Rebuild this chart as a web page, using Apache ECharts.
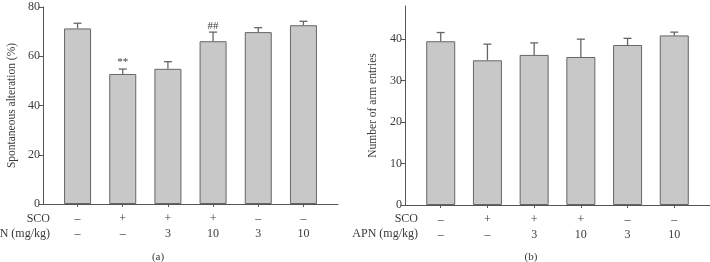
<!DOCTYPE html>
<html>
<head>
<meta charset="utf-8">
<script src="https://cdn.jsdelivr.net/npm/echarts@6/dist/echarts.min.js"></script>
<style>
  html, body { margin: 0; padding: 0; background: #fff; }
  #chart { width: 710px; height: 262px; }
</style>
</head>
<body>
<div id="chart"></div>
<script>
// groups on the x axis (1..6), with the two treatment rows printed under them
var groups = [1, 2, 3, 4, 5, 6];
var scoRow = ['–', '+', '+', '+', '–', '–'];
var apnRow = ['–', '–', '3', '10', '3', '10'];

// (a) spontaneous alteration (%)
var alternation = [71.3, 52.8, 54.9, 66.1, 69.8, 72.6];
var alternationErr = [2.1, 2.0, 2.9, 3.7, 1.8, 1.6];
var alternationMarks = ['', '**', '', '##', '', ''];

// (b) number of arm entries
var armEntries = [39.5, 34.9, 36.2, 35.7, 38.6, 40.9];
var armEntriesErr = [2.1, 3.9, 2.9, 4.3, 1.6, 0.8];
var armEntriesMarks = ['', '', '', '', '', ''];

var yTicksA = [0, 20, 40, 60, 80];
var yTicksB = [0, 10, 20, 30, 40];

var font = 'Liberation Serif';
var textColor = '#3a3a3a';
var axisColor = '#555';

var chart = echarts.init(document.getElementById('chart'));

function barData(vals) {
    return groups.map(function (g, i) { return [g, vals[i]]; });
}
function errData(vals, errs, marks) {
    return groups.map(function (g, i) { return [g, vals[i], errs[i], marks[i]]; });
}

function errorRender(params, api) {
    var x = api.value(0), y = api.value(1), e = api.value(2), mark = api.value(3);
    var p0 = api.coord([x, y]);
    var p1 = api.coord([x, y + e]);
    var st = { stroke: '#666', lineWidth: 1.3 };
    var kids = [
        { type: 'line', shape: { x1: p0[0], y1: p0[1], x2: p1[0], y2: p1[1] }, style: st },
        { type: 'line', shape: { x1: p1[0] - 4, y1: p1[1], x2: p1[0] + 4, y2: p1[1] }, style: st }
    ];
    if (mark) {
        kids.push({
            type: 'text',
            style: {
                text: mark, x: p1[0], y: p1[1] - 1,
                align: 'center', verticalAlign: 'bottom',
                font: '11px "' + font + '"', fill: textColor
            }
        });
    }
    return { type: 'group', children: kids };
}

function xAxisFor(gridIndex) {
    return {
        type: 'value',
        gridIndex: gridIndex,
        min: 0.235,
        max: 6.765,
        splitLine: { show: false },
        axisLine: { lineStyle: { color: axisColor, width: 1 } },
        axisTick: { customValues: groups, length: 3, lineStyle: { color: axisColor } },
        axisLabel: {
            customValues: groups,
            margin: 7,
            lineHeight: 15,
            fontFamily: font,
            fontSize: 12,
            color: textColor,
            formatter: function (v) {
                var i = groups.indexOf(Math.round(v));
                return scoRow[i] + '\n' + apnRow[i];
            }
        }
    };
}

function yAxisFor(gridIndex, max, ticks, name, gap) {
    return {
        type: 'value',
        gridIndex: gridIndex,
        min: 0,
        max: max,
        name: name,
        nameLocation: 'middle',
        nameGap: gap,
        nameTextStyle: { fontFamily: font, fontSize: 11.5, color: textColor },
        splitLine: { show: false },
        axisLine: { show: true, lineStyle: { color: axisColor, width: 1 } },
        axisTick: { show: true, customValues: ticks, length: 4, lineStyle: { color: axisColor } },
        axisLabel: { customValues: ticks, margin: 3, fontFamily: font, fontSize: 12, color: textColor }
    };
}

function rowHeader(x, y, txt) {
    return {
        type: 'text', x: x, y: y,
        style: { text: txt, align: 'right', verticalAlign: 'middle',
                 font: '12px "' + font + '"', fill: textColor }
    };
}
function caption(x, y, txt) {
    return {
        type: 'text', x: x, y: y,
        style: { text: txt, align: 'center', verticalAlign: 'middle',
                 font: '11px "' + font + '"', fill: textColor }
    };
}

var barStyle = { color: '#c8c8c8', borderColor: '#666', borderWidth: 1 };

var option = {
    animation: false,
    backgroundColor: '#fff',
    grid: [
        { left: 43, top: 7, width: 295, height: 197 },
        { left: 405, top: 6, width: 311.5, height: 199 }
    ],
    xAxis: [xAxisFor(0), xAxisFor(1)],
    yAxis: [
        yAxisFor(0, 80, yTicksA, 'Spontaneous alteration (%)', 25),
        yAxisFor(1, 48, yTicksB, 'Number of arm entries', 26)
    ],
    series: [
        { type: 'bar', xAxisIndex: 0, yAxisIndex: 0, barWidth: 27,
          itemStyle: barStyle, data: barData(alternation) },
        { type: 'custom', xAxisIndex: 0, yAxisIndex: 0, z: 5,
          renderItem: errorRender, data: errData(alternation, alternationErr, alternationMarks) },
        { type: 'bar', xAxisIndex: 1, yAxisIndex: 1, barWidth: 29,
          itemStyle: barStyle, data: barData(armEntries) },
        { type: 'custom', xAxisIndex: 1, yAxisIndex: 1, z: 5,
          renderItem: errorRender, data: errData(armEntries, armEntriesErr, armEntriesMarks) }
    ],
    graphic: [
        rowHeader(50, 219, 'SCO'),
        rowHeader(50, 234, 'APN (mg/kg)'),
        rowHeader(418, 219, 'SCO'),
        rowHeader(418, 234, 'APN (mg/kg)'),
        caption(158, 257, '(a)'),
        caption(531, 257, '(b)')
    ]
};

chart.setOption(option);
</script>
</body>
</html>
